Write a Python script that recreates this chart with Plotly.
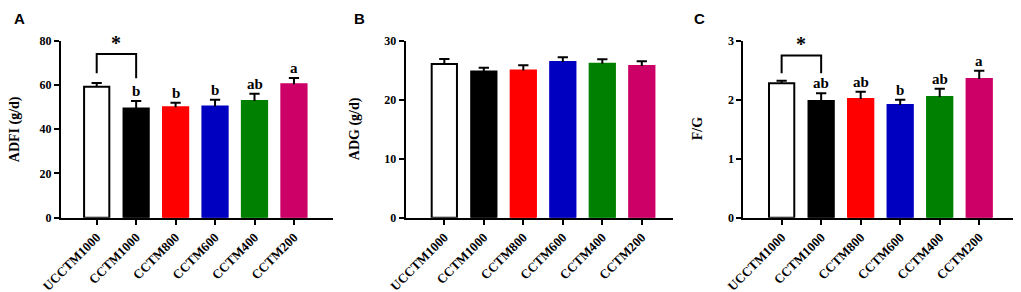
import plotly.graph_objects as go

categories = ["UCCTM1000", "CCTM1000", "CCTM800", "CCTM600", "CCTM400", "CCTM200"]
bar_colors = ["#FFFFFF", "#000000", "#FF0000", "#0000C0", "#008000", "#CC0066"]
edge_colors = ["#000000", "#000000", "#FF0000", "#0000C0", "#008000", "#CC0066"]

adfi_mean = [59.2, 49.4, 49.9, 50.3, 52.7, 60.3]
adfi_sem = [1.7, 3.3, 2.1, 3.0, 3.3, 2.8]
adfi_letters = ["", "b", "b", "b", "ab", "a"]

adg_mean = [26.05, 24.8, 24.97, 26.4, 26.1, 25.7]
adg_sem = [0.85, 0.6, 0.85, 0.8, 0.75, 0.8]
adg_letters = ["", "", "", "", "", ""]

fg_mean = [2.28, 1.98, 2.01, 1.91, 2.045, 2.35]
fg_sem = [0.04, 0.13, 0.125, 0.09, 0.14, 0.14]
fg_letters = ["", "ab", "ab", "b", "ab", "a"]

# significance brackets: (left idx, right idx, top, left-leg end, right-leg end)
adfi_bracket = [0, 1, 74.0, 65.3, 63.0]
fg_bracket = [0, 1, 2.75, 2.45, 2.45]

adfi_ticks = [0, 20, 40, 60, 80]
adg_ticks = [0, 10, 20, 30]
fg_ticks = [0, 1, 2, 3]

SERIF = "Liberation Serif"
SANS = "Liberation Sans"

# page body has an 8px margin; lay out in window pixels and shift
OFF = 8
W, H = 1021 - OFF, 292 - OFF


def px_x(x):
    return (x - OFF) / W


def px_y(y):
    return 1 - (y - OFF) / H


panels = [
    dict(key="", mean=adfi_mean, sem=adfi_sem, letters=adfi_letters, bracket=adfi_bracket,
         title="ADFI (g/d)", yticks=adfi_ticks,
         xdom=[px_x(61), px_x(333)], xrange=[-0.905, 5.99], title_x=15, label="A", label_x=12),
    dict(key="2", mean=adg_mean, sem=adg_sem, letters=adg_letters, bracket=None,
         title="ADG (g/d)", yticks=adg_ticks,
         xdom=[px_x(405.7), px_x(673)], xrange=[-0.978, 5.79], title_x=355, label="B", label_x=352),
    dict(key="3", mean=fg_mean, sem=fg_sem, letters=fg_letters, bracket=fg_bracket,
         title="F/G", yticks=fg_ticks,
         xdom=[px_x(743.3), px_x(1014)], xrange=[-0.97, 5.88], title_x=697, label="C", label_x=692),
]

ydom = [px_y(217.7), px_y(40.7)]

fig = go.Figure()
annotations = []
layout = {}
cap = 0.13
xs = list(range(len(categories)))

for p in panels:
    k = p["key"]
    xref = "x" + k
    yref = "y" + k
    fig.add_trace(go.Bar(
        x=xs, y=p["mean"], width=0.64,
        marker=dict(color=bar_colors, line=dict(color=edge_colors, width=2)),
        xaxis=xref, yaxis=yref, hoverinfo="skip",
    ))
    ex, ey = [], []
    for i, (m, s) in enumerate(zip(p["mean"], p["sem"])):
        ex += [i, i, None, i - cap, i + cap, None]
        ey += [m, m + s, None, m + s, m + s, None]
    fig.add_trace(go.Scatter(x=ex, y=ey, mode="lines", line=dict(color="black", width=2),
                             xaxis=xref, yaxis=yref, hoverinfo="skip"))
    for i, (m, s, t) in enumerate(zip(p["mean"], p["sem"], p["letters"])):
        if t:
            annotations.append(dict(x=i, y=m + s, xref=xref, yref=yref, text="<b>%s</b>" % t,
                                    showarrow=False, yanchor="bottom", yshift=0,
                                    font=dict(family=SERIF, size=15, color="black")))
    if p["bracket"]:
        b0, b1, top, yl, yr = p["bracket"]
        fig.add_trace(go.Scatter(x=[b0, b0, b1, b1], y=[yl, top, top, yr], mode="lines",
                                 line=dict(color="black", width=2),
                                 xaxis=xref, yaxis=yref, hoverinfo="skip"))
        annotations.append(dict(x=(b0 + b1) / 2, y=top, xref=xref, yref=yref, text="<b>*</b>",
                                showarrow=False, yanchor="bottom", yshift=-2,
                                font=dict(family=SERIF, size=20, color="black")))
    annotations.append(dict(x=px_x(p["title_x"]), y=(ydom[0] + ydom[1]) / 2, xref="paper", yref="paper",
                            text="<b>%s</b>" % p["title"], textangle=-90, showarrow=False,
                            xanchor="center", yanchor="middle",
                            font=dict(family=SERIF, size=14, color="black")))
    annotations.append(dict(x=px_x(p["label_x"]), y=1, xref="paper", yref="paper",
                            text="<b>%s</b>" % p["label"], showarrow=False,
                            xanchor="left", yanchor="top",
                            font=dict(family=SANS, size=15, color="black")))
    yt = p["yticks"]
    layout["xaxis" + k] = dict(
        domain=p["xdom"], range=p["xrange"], anchor=yref, automargin=False,
        tickmode="array", tickvals=xs, ticktext=["<b>%s</b>" % c for c in categories], tickangle=-45,
        ticks="outside", ticklen=5, tickwidth=2, tickcolor="black",
        showline=True, linewidth=2, linecolor="black", showgrid=False, zeroline=False,
        tickfont=dict(family=SERIF, size=13, color="black"),
    )
    layout["yaxis" + k] = dict(
        domain=ydom, range=[yt[0], yt[-1]], anchor=xref, automargin=False,
        tickmode="array", tickvals=yt, ticktext=["<b>%s</b>" % v for v in yt],
        ticks="outside", ticklen=5, tickwidth=2, tickcolor="black",
        showline=True, linewidth=2, linecolor="black", showgrid=False, zeroline=False,
        tickfont=dict(family=SERIF, size=12, color="black"),
    )

fig.update_layout(
    width=W, height=H, margin=dict(l=0, r=0, t=0, b=0),
    paper_bgcolor="white", plot_bgcolor="white", showlegend=False,
    annotations=annotations, **layout,
)

fig.write_html("out.html")
